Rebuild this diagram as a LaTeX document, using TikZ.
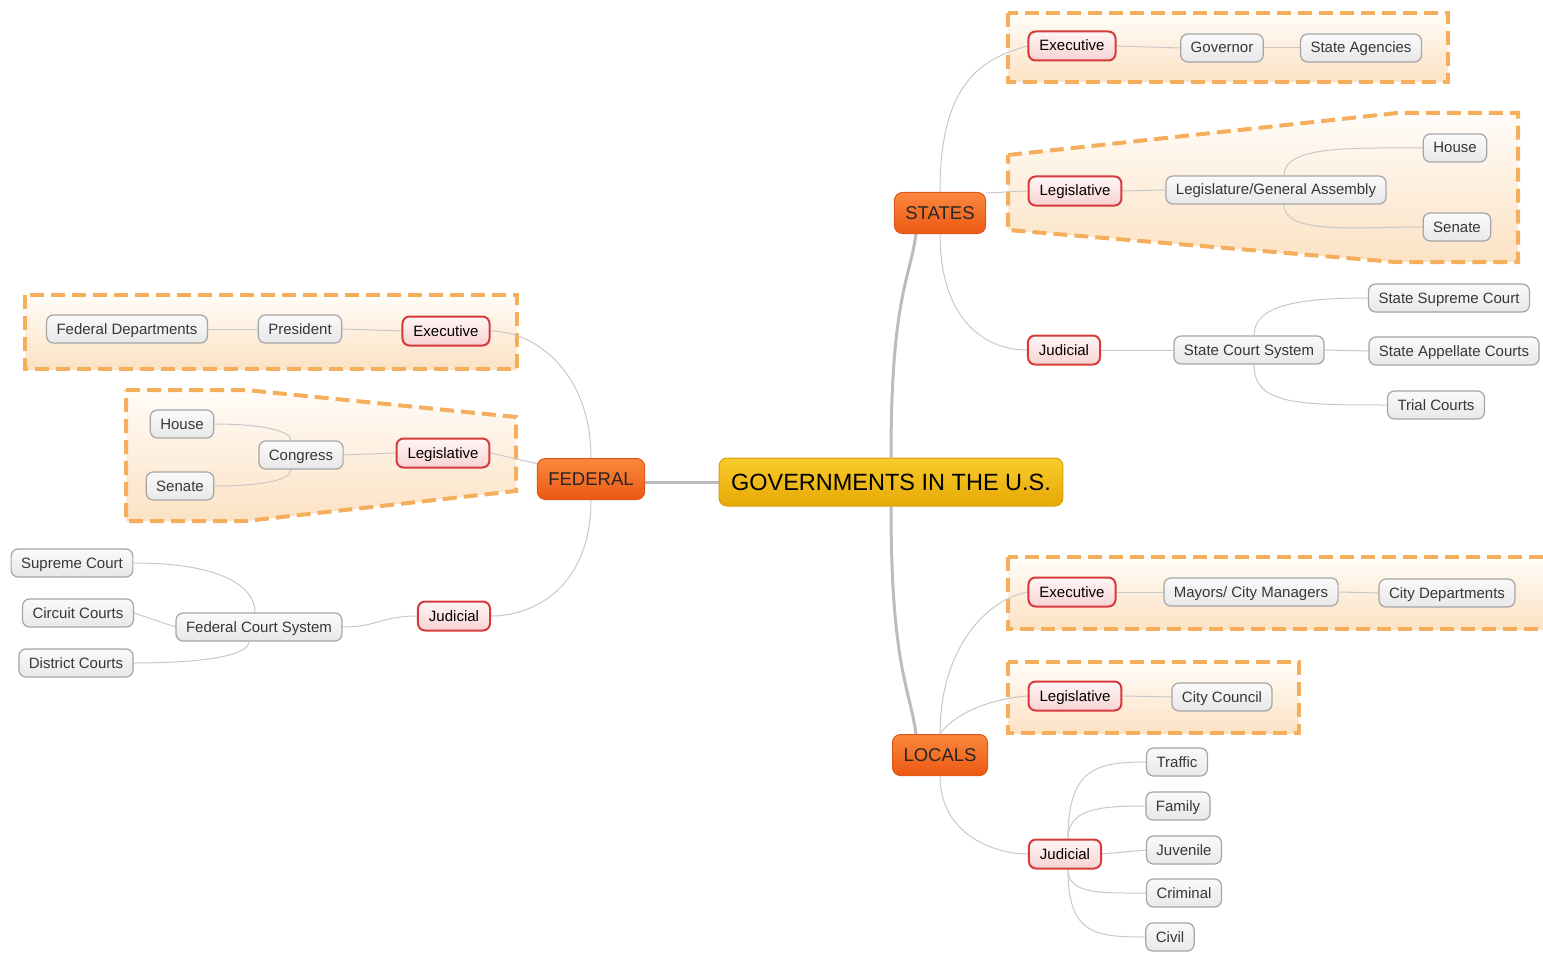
\documentclass[tikz,border=0pt]{standalone}
\usepackage{fontspec}
\setmainfont{Liberation Sans}
\usetikzlibrary{calc}
\pgfdeclarelayer{bgA}
\pgfdeclarelayer{bgB}
\pgfsetlayers{bgA,bgB,main}
\definecolor{leafborder}{RGB}{165,165,165}
\definecolor{leaftop}{RGB}{250,250,250}
\definecolor{leafbot}{RGB}{232,232,232}
\definecolor{txtgray}{RGB}{55,55,55}
\definecolor{redborder}{RGB}{214,58,58}
\definecolor{redtop}{RGB}{255,246,246}
\definecolor{redbot}{RGB}{248,210,210}
\definecolor{orgborder}{RGB}{222,86,24}
\definecolor{orgtop}{RGB}{250,136,62}
\definecolor{orgbot}{RGB}{236,88,18}
\definecolor{rootborder}{RGB}{214,160,10}
\definecolor{roottop}{RGB}{249,204,44}
\definecolor{rootbot}{RGB}{230,168,4}
\definecolor{linkgray}{RGB}{200,200,200}
\definecolor{trunkgray}{RGB}{188,188,188}
\definecolor{dashorange}{RGB}{244,174,92}
\definecolor{grptop}{RGB}{255,252,248}
\definecolor{grpbot}{RGB}{252,226,196}
\tikzset{
  box/.style={rounded corners=7pt, minimum height=28pt, inner xsep=10pt, inner ysep=2pt,
    text height=10.5pt, text depth=0.5pt,
    font=\fontsize{15}{17}\selectfont, text=txtgray},
  leaf/.style={box, draw=leafborder, line width=1.2pt, top color=leaftop, bottom color=leafbot},
  redbox/.style={box, draw=redborder, line width=2pt, top color=redtop, bottom color=redbot,
    minimum height=29pt, inner xsep=11pt, text=black},
  branch/.style={rounded corners=8pt, minimum height=41pt, inner xsep=11pt, draw=orgborder,
    line width=1pt, top color=orgtop, bottom color=orgbot, text=black!85,
    text height=13pt, text depth=0.5pt,
    font=\fontsize{18.5}{21}\selectfont},
  root/.style={rounded corners=8pt, minimum height=48pt, inner xsep=12pt, draw=rootborder,
    line width=1pt, top color=roottop, bottom color=rootbot, text=black,
    text height=17pt, text depth=0.5pt,
    font=\fontsize{23.5}{26}\selectfont},
  link/.style={draw=linkgray, line width=1pt},
  trunk/.style={draw=trunkgray, line width=3pt},
  group/.style={draw=dashorange, line width=4pt, dash pattern=on 14pt off 7pt,
    top color=grptop, bottom color=grpbot},
}
\begin{document}
\begin{tikzpicture}[x=1pt,y=-1pt]
\useasboundingbox (0,0) rectangle (1543,955);
% nodes
\node[root] (main) at (891,482) {GOVERNMENTS IN THE U.S.};
\node[branch] (fed) at (591,479) {FEDERAL};
\node[branch] (states) at (940,213) {STATES};
\node[branch] (locals) at (940,755) {LOCALS};
% federal
\node[redbox] (fexec) at (446,331) {Executive};
\node[leaf] (pres) at (300,329) {President};
\node[leaf] (fdep) at (127,329) {Federal Departments};
\node[redbox] (fleg) at (443,453) {Legislative};
\node[leaf] (cong) at (301,455) {Congress};
\node[leaf] (fhouse) at (182,424) {House};
\node[leaf] (fsen) at (180,486) {Senate};
\node[redbox] (fjud) at (454,616) {Judicial};
\node[leaf] (fcs) at (259,627) {Federal Court System};
\node[leaf] (sc) at (72,563) {Supreme Court};
\node[leaf] (cc) at (78,613) {Circuit Courts};
\node[leaf] (dc) at (76,663) {District Courts};
% states
\node[redbox] (sexec) at (1072,46) {Executive};
\node[leaf] (gov) at (1222,48) {Governor};
\node[leaf] (sag) at (1361,48) {State Agencies};
\node[redbox] (sleg) at (1075,191) {Legislative};
\node[leaf] (lga) at (1276,190) {Legislature/General Assembly};
\node[leaf] (shouse) at (1455,148) {House};
\node[leaf] (ssen) at (1457,227) {Senate};
\node[redbox] (sjud) at (1064,350) {Judicial};
\node[leaf] (scs) at (1249,350) {State Court System};
\node[leaf] (ssc) at (1449,298) {State Supreme Court};
\node[leaf] (sac) at (1454,351) {State Appellate Courts};
\node[leaf] (trial) at (1436,405) {Trial Courts};
% locals
\node[redbox] (lexec) at (1072,592) {Executive};
\node[leaf] (mayor) at (1251,592) {Mayors/ City Managers};
\node[leaf] (cdep) at (1447,593) {City Departments};
\node[redbox] (lleg) at (1075,696) {Legislative};
\node[leaf] (council) at (1222,697) {City Council};
\node[redbox] (ljud) at (1065,854) {Judicial};
\node[leaf] (traffic) at (1177,762) {Traffic};
\node[leaf] (family) at (1178,806) {Family};
\node[leaf] (juv) at (1184,850) {Juvenile};
\node[leaf] (crim) at (1184,893) {Criminal};
\node[leaf] (civil) at (1170,937) {Civil};
% groups
\begin{pgfonlayer}{bgA}
\path[group] (25,295) rectangle (517,369);
\path[group] (126,390) -- (246,390) -- (516,417) -- (516,491) -- (246,521) -- (126,521) -- cycle;
\path[group] (1008,13) rectangle (1448,82);
\path[group] (1008,155) -- (1397,113) -- (1518,113) -- (1518,262) -- (1395,262) -- (1008,230) -- cycle;
\path[group] (1008,557) rectangle (1550,629);
\path[group] (1008,662) rectangle (1299,733);
\end{pgfonlayer}
% connectors
\begin{pgfonlayer}{bgB}
\draw[trunk] (main.west) -- (main.west -| fed.east);
\draw[trunk] (main.north) .. controls +(0,-160) and +(-6,45) .. ([xshift=-24pt]states.south);
\draw[trunk] (main.south) .. controls +(0,160) and +(-6,-45) .. ([xshift=-24pt]locals.north);
% federal
\draw[link] (fed.north) .. controls +(0,-85) and +(45,0) .. (fexec.east);
\draw[link] (fleg.east) -- ($(fed.north west)+(2,6)$);
\draw[link] (fed.south) .. controls +(0,85) and +(45,0) .. (fjud.east);
\draw[link] (fexec.west) -- (pres.east);
\draw[link] (pres.west) -- (fdep.east);
\draw[link] (fleg.west) -- (cong.east);
\draw[link] (fhouse.east) .. controls +(45,0) and +(0,-10) .. ([xshift=-10pt]cong.north);
\draw[link] (fsen.east) .. controls +(50,0) and +(0,10) .. ([xshift=-10pt]cong.south);
\draw[link] (fjud.west) .. controls +(-35,0) and +(35,0) .. (fcs.east);
\draw[link] (sc.east) .. controls +(90,0) and +(0,-25) .. ([xshift=-4pt]fcs.north);
\draw[link] (cc.east) -- (fcs.west);
\draw[link] (dc.east) .. controls +(80,0) and +(0,12) .. ([xshift=-10pt]fcs.south);
% states
\draw[link] (states.north) .. controls (940,90) and (975,60) .. (sexec.west);
\draw[link] (sleg.west) -- ($(states.north east)+(0,1)$);
\draw[link] (states.south) .. controls (940,320) and (985,350) .. (sjud.west);
\draw[link] (sexec.east) -- (gov.west);
\draw[link] (gov.east) -- (sag.west);
\draw[link] (sleg.east) -- (lga.west);
\draw[link] ([xshift=8pt]lga.north) .. controls +(0,-30) and +(-70,0) .. (shouse.west);
\draw[link] ([xshift=8pt]lga.south) .. controls +(0,30) and +(-70,0) .. (ssen.west);
\draw[link] (sjud.east) -- (scs.west);
\draw[link] ([xshift=5pt]scs.north) .. controls +(0,-30) and +(-70,0) .. (ssc.west);
\draw[link] (scs.east) -- (sac.west);
\draw[link] ([xshift=5pt]scs.south) .. controls +(0,40) and +(-90,0) .. (trial.west);
% locals
\draw[link] (locals.north) .. controls (940,650) and (985,600) .. (lexec.west);
\draw[link] (locals.north) .. controls (955,712) and (995,698) .. (lleg.west);
\draw[link] (locals.south) .. controls (940,835) and (995,854) .. (ljud.west);
\draw[link] (lexec.east) -- (mayor.west);
\draw[link] (mayor.east) -- (cdep.west);
\draw[link] (lleg.east) -- (council.west);
\draw[link] ([xshift=3pt]ljud.north) .. controls +(0,-70) and +(-50,0) .. (traffic.west);
\draw[link] ([xshift=3pt]ljud.north) .. controls +(0,-30) and +(-45,0) .. (family.west);
\draw[link] (ljud.east) -- (juv.west);
\draw[link] ([xshift=3pt]ljud.south) .. controls +(0,25) and +(-45,0) .. (crim.west);
\draw[link] ([xshift=3pt]ljud.south) .. controls +(0,65) and +(-50,0) .. (civil.west);
\end{pgfonlayer}
\end{tikzpicture}
\end{document}
